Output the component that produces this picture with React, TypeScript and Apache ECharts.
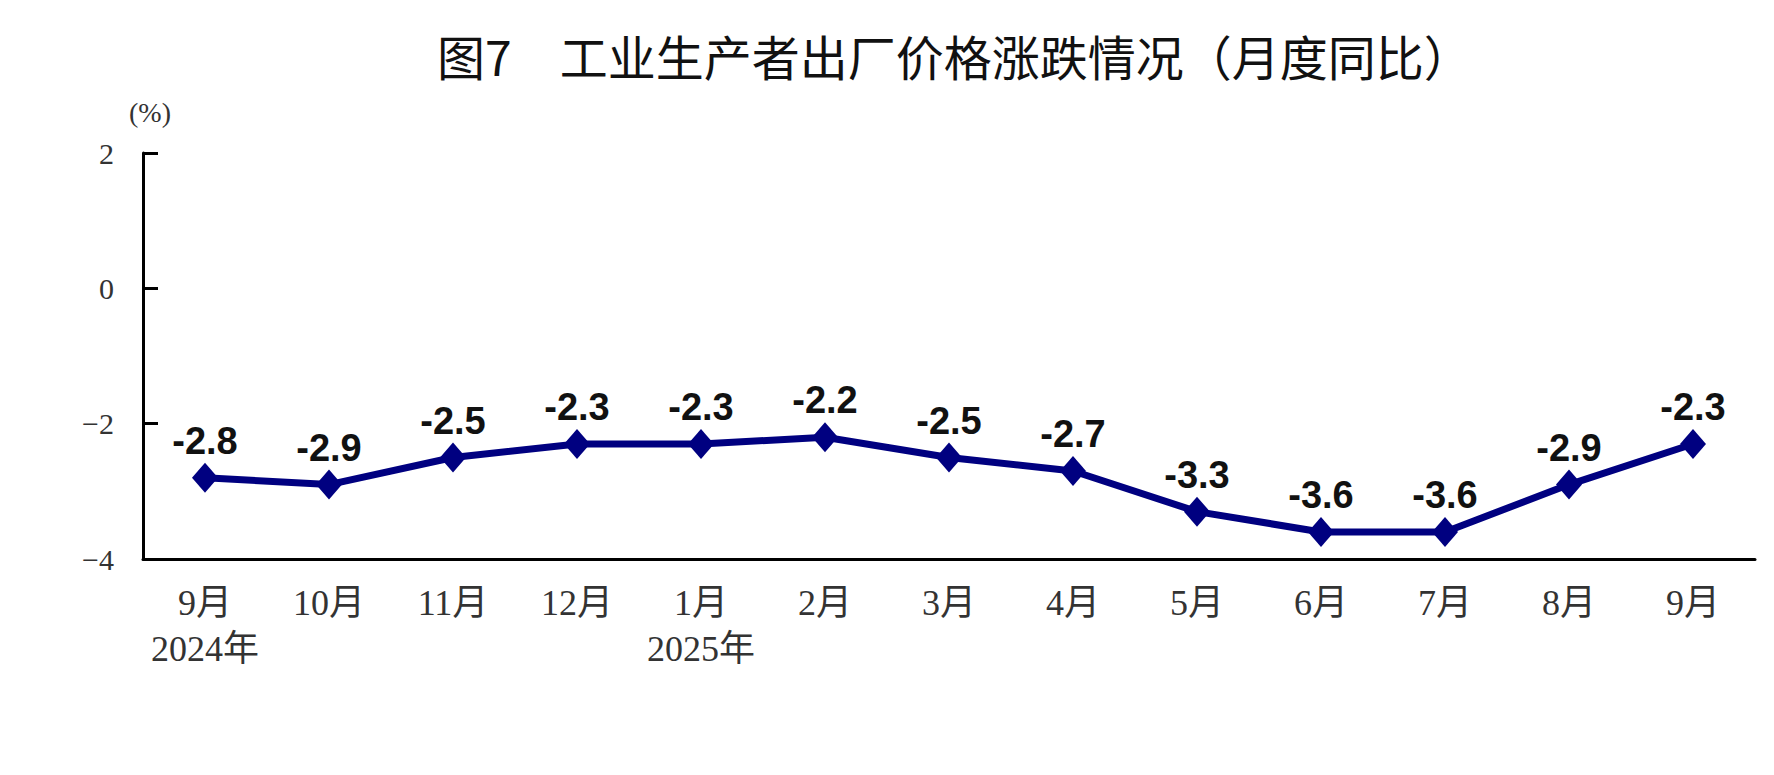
import React, { useEffect, useRef } from "react";
import * as echarts from "echarts";

const categories = ["9月\n2024年", "10月", "11月", "12月", "1月\n2025年", "2月", "3月", "4月", "5月", "6月", "7月", "8月", "9月"];
const values = [-2.8, -2.9, -2.5, -2.3, -2.3, -2.2, -2.5, -2.7, -3.3, -3.6, -3.6, -2.9, -2.3];
const yTicks = { min: -4, max: 2, interval: 2 };
const titleText = "图7\u3000工业生产者出厂价格涨跌情况（月度同比）";
const unitText = "(%)";

export default function App() {
  const ref = useRef<HTMLDivElement>(null);
  useEffect(() => {
    const chart = echarts.init(ref.current!, null, { renderer: "svg" });
    const serif = "'Liberation Serif', 'Noto Sans CJK SC', serif";
    chart.setOption({
      animation: false,
      backgroundColor: "#ffffff",
      title: {
        text: titleText,
        left: 432,
        top: 26,
        textStyle: {
          fontFamily: "'Noto Sans CJK SC', sans-serif",
          fontSize: 48,
          fontWeight: "normal",
          color: "#111111",
        },
      },
      grid: { left: 143, right: 19, top: 153, bottom: 216, containLabel: false },
      xAxis: {
        type: "category",
        data: categories,
        boundaryGap: true,
        axisLine: { onZero: false, lineStyle: { color: "#000000", width: 3 } },
        axisTick: { inside: true, length: 15, lineStyle: { color: "#000000", width: 3 } },
        axisLabel: {
          interval: 0,
          margin: 21,
          fontFamily: serif,
          fontSize: 36,
          lineHeight: 46,
          color: "#333333",
        },
        splitLine: { show: false },
      },
      yAxis: {
        type: "value",
        min: yTicks.min,
        max: yTicks.max,
        interval: yTicks.interval,
        name: unitText,
        nameLocation: "end",
        nameGap: 27,
        nameTextStyle: {
          fontFamily: serif,
          fontSize: 28,
          color: "#333333",
          padding: [0, 0, 0, 14],
        },
        axisLine: { show: true, lineStyle: { color: "#000000", width: 3 } },
        axisTick: { show: true, inside: true, length: 15, lineStyle: { color: "#000000", width: 3 } },
        axisLabel: {
          margin: 29,
          fontFamily: serif,
          fontSize: 30,
          color: "#333333",
          formatter: (v: number) => (v < 0 ? "\u2212" + Math.abs(v) : String(v)),
        },
        splitLine: { show: false },
      },
      series: [
        {
          type: "line",
          data: values,
          symbol: "diamond",
          symbolSize: [26, 30],
          itemStyle: { color: "#000080" },
          lineStyle: { color: "#000080", width: 7 },
          label: {
            show: true,
            position: "top",
            distance: 3,
            fontFamily: "'Liberation Sans', Arial, sans-serif",
            fontWeight: "bold",
            fontSize: 38,
            color: "#111111",
            formatter: (p: any) => p.value.toFixed(1),
          },
        },
      ],
    });
    return () => chart.dispose();
  }, []);
  return (
    <div
      ref={ref}
      style={{ position: "absolute", left: 0, top: 0, width: 1774, height: 775, background: "#fff" }}
    />
  );
}
